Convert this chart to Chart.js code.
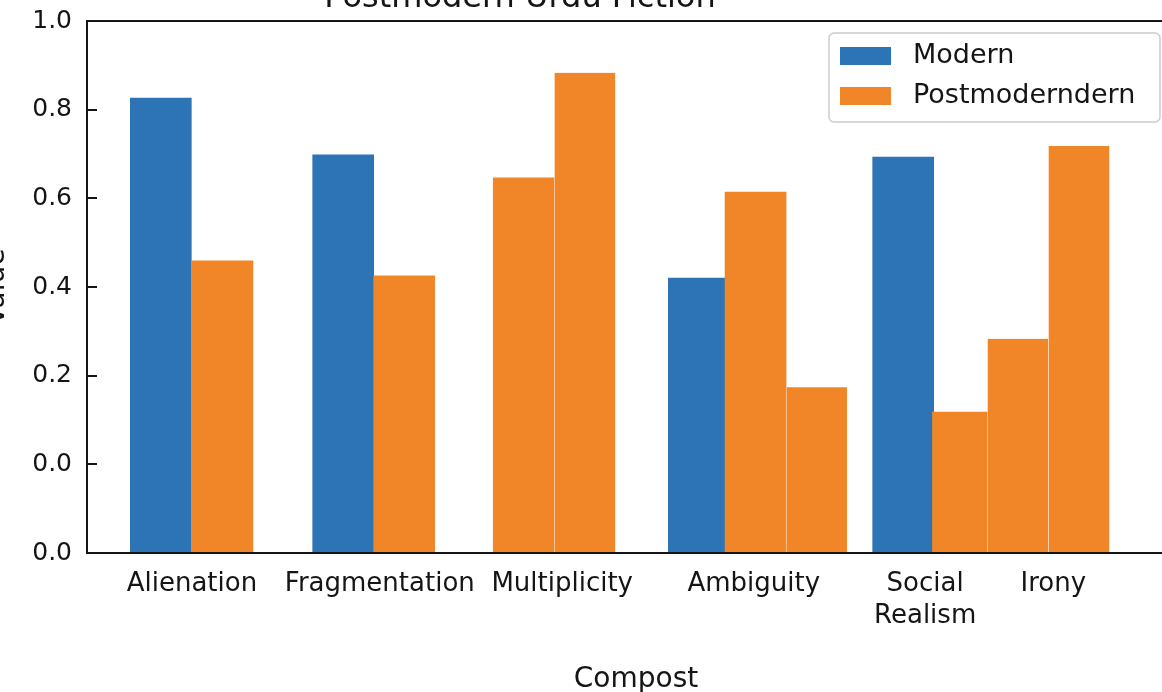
<!DOCTYPE html>
<html>
<head>
<meta charset="utf-8">
<script src="https://cdn.jsdelivr.net/npm/chart.js@4.4.1/dist/chart.umd.min.js"></script>
<style>
  html, body { margin: 0; padding: 0; background: #fff; overflow: hidden; }
  body { width: 1162px; height: 692px; position: relative; }
  #wrap { position: absolute; left: -20px; top: 0; }
</style>
</head>
<body>
<div id="wrap"><canvas id="chart" width="1230" height="712"></canvas></div>
<script>
// Category labels and where they sit on the x axis
const categories = ['Alienation', 'Fragmentation', 'Multiplicity', 'Ambiguity', ['Social', 'Realism'], 'Irony'];
const catPos = [1.72, 4.80, 7.79, 10.93, 13.74, 15.84];

// Modern bars (x slot, value)
const modernPos = [1.21, 4.20, 10.03, 13.38];
const modernVal = [0.826, 0.698, 0.420, 0.693];

// Postmodern bars (x slot, value)
const postPos = [2.22, 5.20, 7.16, 8.16, 10.96, 11.96, 14.36, 15.26, 16.26];
const postVal = [0.459, 0.425, 0.646, 0.883, 0.614, 0.174, 0.118, 0.283, 0.718];

// y axis ticks (bottom tick is labelled 0.0 as well in the original)
const yTicks = [-0.2, 0.0, 0.2, 0.4, 0.6, 0.8, 1.0];
const yTickLabels = ['0.0', '0.0', '0.2', '0.4', '0.6', '0.8', '1.0'];

const BLUE = '#2c74b6';
const ORANGE = '#f08628';
const INK = '#151515';

Chart.defaults.font.family = "'DejaVu Sans', sans-serif";
Chart.defaults.color = INK;

function toPoints(xs, ys) {
  return xs.map((x, i) => ({ x: x, y: ys[i] }));
}

// thin light seam where two orange bars touch
function seam(ctx) {
  const x = postPos[ctx.dataIndex];
  const touching = postPos.some(p => x - p > 0.85 && x - p < 1.1);
  return touching ? { left: 1, right: 0, top: 0, bottom: 0 } : 0;
}

// title sits mostly above the picture edge
const titlePlugin = {
  id: 'cutTitle',
  afterDraw(chart) {
    const c = chart.ctx;
    c.save();
    c.font = "32px 'DejaVu Sans'";
    c.fillStyle = INK;
    c.textAlign = 'center';
    c.textBaseline = 'alphabetic';
    c.fillText('Postmodern Urdu Fiction', 540, 7);
    c.restore();
  }
};

// axes frame and inward tick marks
const framePlugin = {
  id: 'frame',
  afterDatasetsDraw(chart) {
    const { ctx: c, chartArea: a } = chart;
    const y = chart.scales.y;
    c.save();
    c.strokeStyle = INK;
    c.lineWidth = 2;
    c.beginPath();
    c.moveTo(a.left, a.top); c.lineTo(a.right, a.top);
    c.moveTo(a.left, a.bottom); c.lineTo(a.right, a.bottom);
    c.moveTo(a.left, a.top - 1); c.lineTo(a.left, a.bottom + 1);
    c.moveTo(a.right, a.top - 1); c.lineTo(a.right, a.bottom + 1);
    y.ticks.forEach(t => {
      const py = Math.round(y.getPixelForValue(t.value));
      c.moveTo(a.left, py); c.lineTo(a.left + 10, py);
    });
    c.stroke();
    c.restore();
  }
};

// boxed legend inside the plot, top right
const legendPlugin = {
  id: 'boxLegend',
  afterDraw(chart) {
    const c = chart.ctx;
    const bx = 849, by = 33, bw = 331, bh = 89;
    c.save();
    c.fillStyle = 'rgba(255,255,255,0.9)';
    c.strokeStyle = '#cccccc';
    c.lineWidth = 1.5;
    c.beginPath();
    c.roundRect(bx, by, bw, bh, 5);
    c.fill();
    c.stroke();
    c.font = "27px 'DejaVu Sans'";
    c.textBaseline = 'middle';
    c.textAlign = 'left';
    chart.data.datasets.forEach((ds, i) => {
      const cy = by + 23 + i * 40;
      c.fillStyle = ds.backgroundColor;
      c.fillRect(bx + 11, cy - 9, 51, 18);
      c.fillStyle = INK;
      c.fillText(ds.label, bx + 84, cy);
    });
    c.restore();
  }
};

new Chart(document.getElementById('chart'), {
  type: 'bar',
  data: {
    datasets: [
      {
        label: 'Modern',
        data: toPoints(modernPos, modernVal),
        backgroundColor: BLUE,
        borderWidth: 0,
        order: 2
      },
      {
        label: 'Postmoderndern',
        data: toPoints(postPos, postVal),
        backgroundColor: ORANGE,
        borderColor: 'rgba(255, 206, 160, 0.75)',
        borderWidth: seam,
        order: 1
      }
    ]
  },
  options: {
    responsive: false,
    animation: false,
    layout: { padding: { top: 21, right: 25, bottom: 0, left: 0 } },
    datasets: {
      bar: { barThickness: 61, grouped: false, base: -0.2, borderSkipped: 'start' }
    },
    plugins: {
      legend: { display: false },
      tooltip: { enabled: false },
      title: { display: false }
    },
    scales: {
      x: {
        type: 'linear',
        min: 0,
        max: 18,
        offset: false,
        grid: { display: false, drawTicks: false },
        border: { display: false },
        afterBuildTicks: s => { s.ticks = catPos.map(v => ({ value: v })); },
        afterFit: s => { s.height = 159; },
        ticks: {
          autoSkip: false,
          maxRotation: 0,
          minRotation: 0,
          padding: 15,
          font: { size: 26, lineHeight: 1.23 },
          color: INK,
          callback: (v, i) => categories[i]
        },
        title: {
          display: true,
          text: 'Compost',
          font: { size: 28 },
          color: INK,
          padding: { top: 0, bottom: 15 }
        }
      },
      y: {
        min: -0.2,
        max: 1.0,
        grid: { display: false, drawTicks: false },
        border: { display: false },
        afterBuildTicks: s => { s.ticks = yTicks.map(v => ({ value: v })); },
        afterFit: s => { s.width = 107; s.paddingTop = 0; s.paddingBottom = 0; },
        ticks: {
          padding: 15,
          font: { size: 25 },
          color: INK,
          callback: (v, i) => yTickLabels[i]
        },
        title: {
          display: true,
          text: 'Value',
          font: { size: 28 },
          color: INK,
          padding: { top: 0, bottom: 0 }
        }
      }
    }
  },
  plugins: [titlePlugin, framePlugin, legendPlugin]
});
</script>
</body>
</html>
